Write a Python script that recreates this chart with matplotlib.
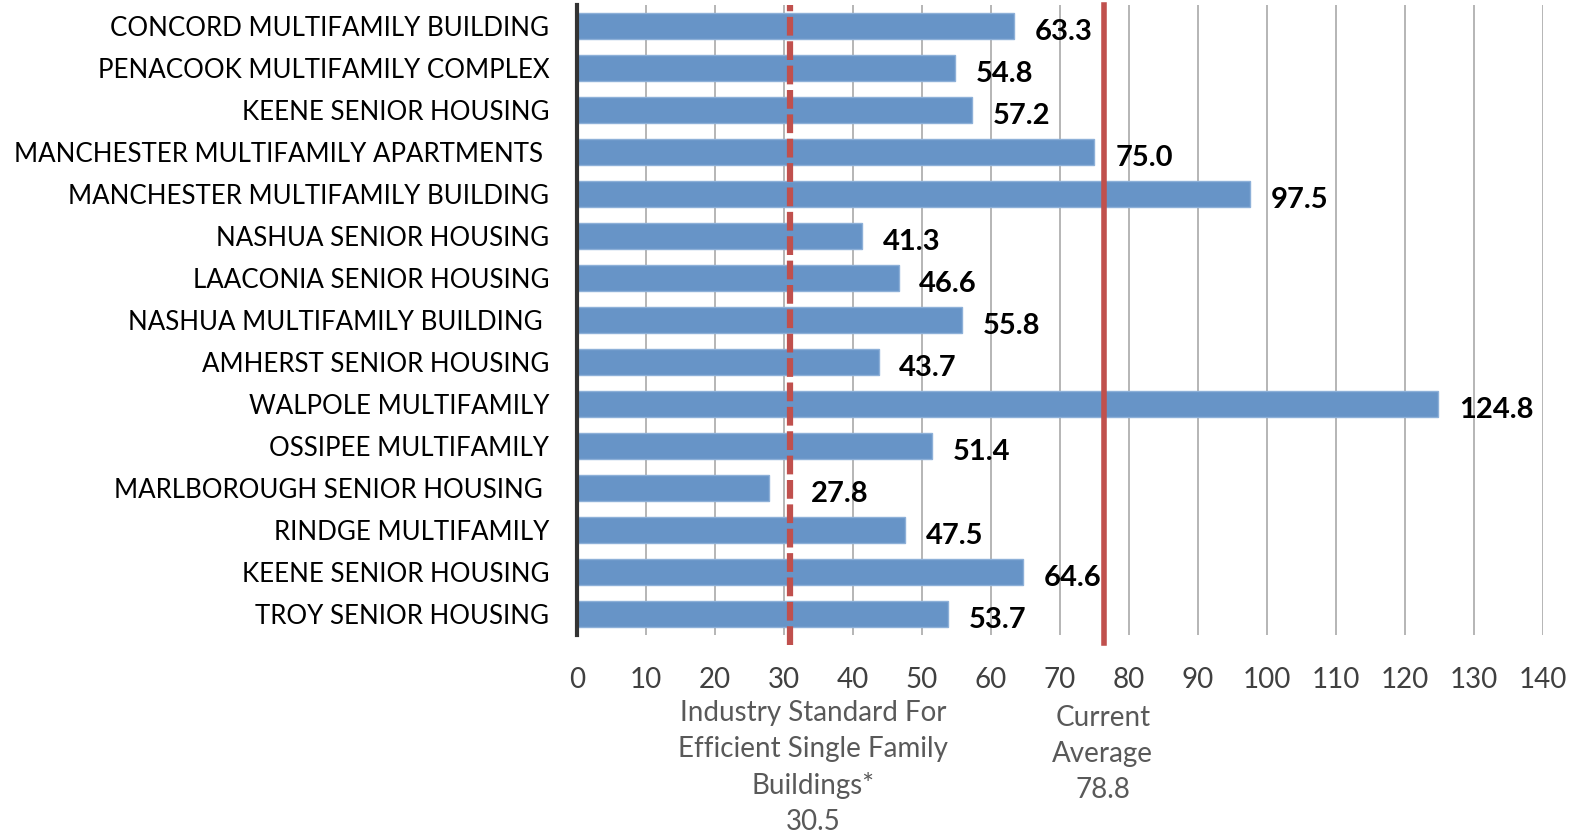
import matplotlib
matplotlib.use('Agg')
import matplotlib.pyplot as plt


# Данные графика (сверху вниз)
buildings = ['CONCORD MULTIFAMILY BUILDING',
             'PENACOOK MULTIFAMILY COMPLEX',
             'KEENE SENIOR HOUSING',
             'MANCHESTER MULTIFAMILY APARTMENTS ',
             'MANCHESTER MULTIFAMILY BUILDING',
             'NASHUA SENIOR HOUSING',
             'LAACONIA SENIOR HOUSING',
             'NASHUA MULTIFAMILY BUILDING ',
             'AMHERST SENIOR HOUSING',
             'WALPOLE MULTIFAMILY',
             'OSSIPEE MULTIFAMILY',
             'MARLBOROUGH SENIOR HOUSING ',
             'RINDGE MULTIFAMILY',
             'KEENE SENIOR HOUSING',
             'TROY SENIOR HOUSING']
values = [63.3, 54.8, 57.2, 75.0, 97.5, 41.3, 46.6, 55.8, 43.7, 124.8,
          51.4, 27.8, 47.5, 64.6, 53.7]

x_ticks = list(range(0, 141, 10))

# Опорные линии (положение по рисунку) и их подписи
standard_line = 30.9
standard_text = 'Industry Standard For\nEfficient Single Family\nBuildings*\n30.5'
average_line = 76.4
average_text = 'Current\nAverage\n78.8'

BAR_COLOR = '#6794C7'
RED = '#C0504D'

plt.rcParams['font.family'] = ['Lato', 'DejaVu Sans']

fig = plt.figure(figsize=(15.7, 8.35), dpi=100)
ax = fig.add_axes([0.3675, 0.2395, 0.6153, 0.7545])

positions = list(range(len(buildings)))
ax.barh(positions, values, height=0.62, color=BAR_COLOR,
        edgecolor='#8DB0D8', linewidth=1, zorder=2)

for y, v in zip(positions, values):
    # подпись, которая налезает на пунктир, сдвинута вправо
    dx = 30 if v < standard_line else 15
    ax.annotate(f'{v:.1f}', (v, y), xytext=(dx, -4), textcoords='offset points',
                ha='left', va='center', fontsize=21, fontweight='bold',
                color='black', zorder=4)

ax.axvline(standard_line, ymin=-0.016, ymax=1, color=RED, lw=4.5,
           ls=(0, (3.0, 0.9)), clip_on=False, zorder=3)
ax.axvline(average_line, ymin=-0.013, ymax=1, color=RED, lw=4,
           clip_on=False, zorder=3)

ax.set_ylim(len(buildings) - 0.5, -0.5)
ax.set_xlim(0, 140)
ax.set_xticks(x_ticks)
ax.set_yticks(positions)
ax.set_yticklabels(buildings)

ax.grid(axis='x', color='#B0B0B0', lw=1.3, zorder=0)
ax.set_axisbelow(True)
for side in ['top', 'right', 'bottom']:
    ax.spines[side].set_visible(False)
ax.spines['left'].set_color('#333333')
ax.spines['left'].set_linewidth(3)
ax.spines['left'].set_zorder(5)

ax.tick_params(axis='y', length=0, pad=20, labelsize=18.6, labelcolor='black')
ax.tick_params(axis='x', length=0, pad=23, labelsize=20, labelcolor='#404040')

ax.text(34.2, -0.103, standard_text, transform=ax.get_xaxis_transform(),
        ha='center', va='top', fontsize=20, color='#595959',
        linespacing=1.47)
ax.text(76.2, -0.111, average_text, transform=ax.get_xaxis_transform(),
        ha='center', va='top', fontsize=20, color='#595959',
        linespacing=1.47)

fig.savefig('out.png', dpi=100)
